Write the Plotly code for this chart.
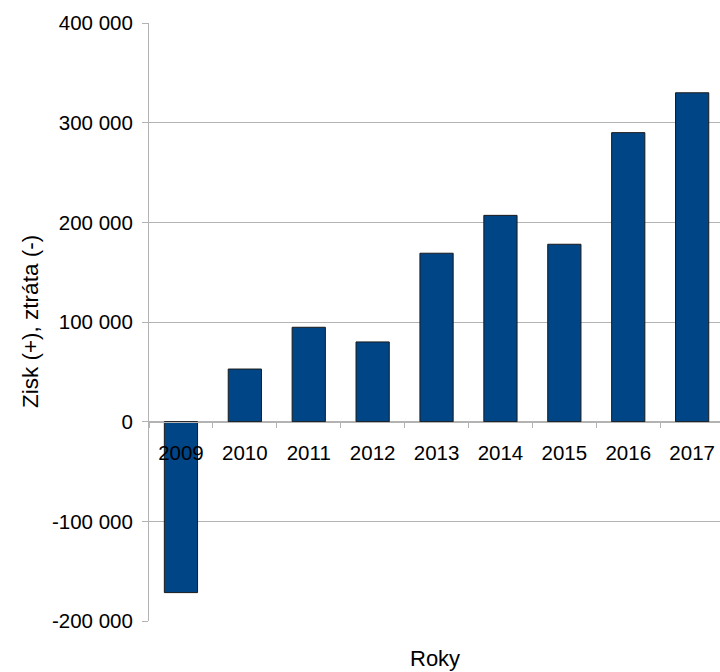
import plotly.graph_objects as go

years = ["2009", "2010", "2011", "2012", "2013", "2014", "2015", "2016", "2017"]
profit = [-171500, 52800, 94700, 80000, 169000, 207000, 178000, 290000, 330000]

y_tick_vals = [-200000, -100000, 0, 100000, 200000, 300000, 400000]
y_tick_text = ["-200 000", "-100 000", "0", "100 000", "200 000", "300 000", "400 000"]

FONT = "Liberation Sans, Arial, sans-serif"
GRID = "#b3b3b3"

fig = go.Figure(
    go.Bar(
        x=years,
        y=profit,
        marker=dict(color="#004586", line=dict(color="#1a1a1a", width=1)),
        width=0.52,
    )
)

fig.update_layout(
    width=720,
    height=672,
    margin=dict(l=149, r=0, t=23, b=51, pad=0),
    plot_bgcolor="white",
    paper_bgcolor="white",
    font=dict(family=FONT, size=20, color="black"),
    showlegend=False,
    xaxis=dict(
        type="category",
        anchor="free",
        position=1 / 3,
        showgrid=False,
        showline=True,
        linecolor=GRID,
        linewidth=1,
        ticks="outside",
        tickson="boundaries",
        ticklen=5,
        tickcolor=GRID,
        tickfont=dict(size=20.5),
        ticklabelstandoff=13,
        range=[-0.5, 8.436],
        zeroline=False,
    ),
    yaxis=dict(
        range=[-200000, 400000],
        tickvals=y_tick_vals,
        ticktext=y_tick_text,
        showgrid=True,
        gridcolor=GRID,
        gridwidth=1,
        showline=True,
        linecolor=GRID,
        linewidth=1,
        ticks="outside",
        ticklen=6,
        tickcolor=GRID,
        tickfont=dict(size=20.5),
        ticklabelstandoff=5,
        zeroline=False,
    ),
    annotations=[
        dict(
            text="Zisk (+), ztráta (-)",
            x=-0.2084,
            y=0.5,
            xref="paper",
            yref="paper",
            showarrow=False,
            textangle=-90,
            xanchor="center",
            yanchor="middle",
            font=dict(size=22.5),
        ),
        dict(
            text="Roky",
            x=0.5,
            y=-0.062,
            xref="paper",
            yref="paper",
            showarrow=False,
            xanchor="center",
            yanchor="middle",
            font=dict(size=22),
        ),
    ],
)

fig.write_html(
    "out.html",
    config={"displayModeBar": False},
    post_script="document.body.style.margin='0';document.body.style.overflow='hidden';",
)
